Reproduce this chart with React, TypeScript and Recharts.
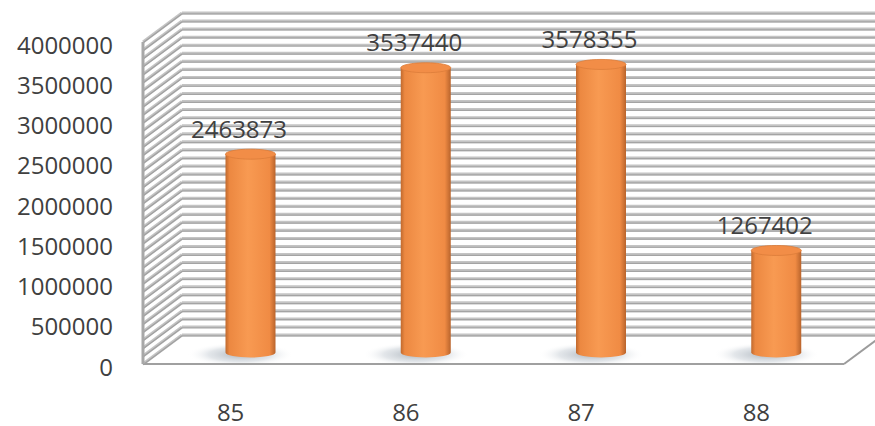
import { BarChart, Bar, XAxis, YAxis, CartesianGrid, LabelList } from "recharts";

// values
const years = ["85", "86", "87", "88"];
const amounts = [2463873, 3537440, 3578355, 1267402];
const majorTicks = [0, 500000, 1000000, 1500000, 2000000, 2500000, 3000000, 3500000, 4000000];
// minor grid every 100000
const gridTicks = Array.from({ length: 41 }, (_, i) => i * 100000);

const data = years.map((year, i) => ({ year, amount: amounts[i] }));

// depth offset of the back wall, cylinders sit half way
const DX = 39;
const DY = -29;
const TEXT = "#404040";
const FONT = "'Open Sans', 'Noto Sans', sans-serif";

function GridLine3D(props: any) {
  const { x1, x2, y1, index } = props;
  const bx = x1 + DX;
  const by = y1 + DY;
  return (
    <g key={`g-${index}`}>
      {index === 0 && (
        <polygon
          points={`${x1},${y1} ${x2},${y1} ${x2 + DX},${by} ${bx},${by}`}
          fill="#fff"
          stroke="none"
        />
      )}
      {index === 0 && (
        <line x1={x2} y1={y1} x2={x2 + DX} y2={by} stroke="#9c9c9c" strokeWidth={2} />
      )}
      <line x1={x1} y1={y1} x2={bx} y2={by} stroke="#c4c4c4" strokeWidth={3} />
      <line x1={x1} y1={y1 + 0.8} x2={bx} y2={by + 0.8} stroke="#a0a0a0" strokeWidth={1.2} />
      <line x1={bx} y1={by} x2={x2 + DX + 10} y2={by} stroke="#c4c4c4" strokeWidth={3} />
      <line x1={bx} y1={by + 0.8} x2={x2 + DX + 10} y2={by + 0.8} stroke="#a4a4a4" strokeWidth={1.2} />
    </g>
  );
}

function Cylinder(props: any) {
  const { x, y, width, height, index } = props;
  const rx = width / 2;
  const ry = 5;
  const cx = x + rx + DX / 2;
  const topY = y + DY / 2 + 3;
  const baseY = y + height + DY / 2 + 3;
  const id = `cyl-${index}`;
  return (
    <g>
      <defs>
        <linearGradient id={id} x1="0" y1="0" x2="1" y2="0">
          <stop offset="0%" stopColor="#c0692e" />
          <stop offset="8%" stopColor="#ec8841" />
          <stop offset="45%" stopColor="#f89a52" />
          <stop offset="88%" stopColor="#f08b44" />
          <stop offset="100%" stopColor="#b9642c" />
        </linearGradient>
        <radialGradient id={`sh-${index}`} cx="50%" cy="50%" r="50%">
          <stop offset="0%" stopColor="#98a2ac" stopOpacity={0.8} />
          <stop offset="60%" stopColor="#c0c8d0" stopOpacity={0.45} />
          <stop offset="100%" stopColor="#ffffff" stopOpacity={0} />
        </radialGradient>
      </defs>
      <ellipse cx={cx - 10} cy={baseY + 2} rx={rx + 28} ry={12} fill={`url(#sh-${index})`} />
      <path
        d={`M${cx - rx},${topY} L${cx - rx},${baseY} A${rx},${ry} 0 0 0 ${cx + rx},${baseY} L${cx + rx},${topY} Z`}
        fill={`url(#${id})`}
      />
      <ellipse cx={cx} cy={topY} rx={rx} ry={ry} fill="#f28d47" stroke="#dc7c3a" strokeWidth={0.8} />
    </g>
  );
}

function ValueLabel(props: any) {
  const { x, y, width, value } = props;
  const cx = x + width / 2 + 8;
  const topY = y + DY / 2;
  return (
    <text x={cx} y={topY - 22 + 8.5} textAnchor="middle" fill={TEXT} fontSize={24} fontFamily={FONT}>
      {value}
    </text>
  );
}

function YTick(props: any) {
  const { x, y, payload } = props;
  if (!majorTicks.includes(payload.value)) return <g />;
  return (
    <text x={x - 30} y={y + 3 + 8.5} textAnchor="end" fill={TEXT} fontSize={24} fontFamily={FONT}>
      {payload.value}
    </text>
  );
}

function XTick(props: any) {
  const { x, payload } = props;
  return (
    <text x={x} y={420.5} textAnchor="middle" fill={TEXT} fontSize={24} fontFamily={FONT}>
      {payload.value}
    </text>
  );
}

export default function App() {
  return (
    <div style={{ position: "absolute", left: 0, top: 0, width: 875, height: 426, background: "#fff" }}>
      <BarChart
        width={875}
        height={426}
        data={data}
        margin={{ top: 42, right: 31, bottom: 0, left: 0 }}
        barSize={50}
      >
        <CartesianGrid vertical={false} horizontal={(p: any) => <GridLine3D {...p} />} />
        <XAxis
          dataKey="year"
          height={62}
          tickLine={false}
          axisLine={{ stroke: "#a0a0a0", strokeWidth: 2 }}
          tick={<XTick />}
          interval={0}
        />
        <YAxis
          width={143}
          domain={[0, 4000000]}
          ticks={gridTicks}
          interval={0}
          tickLine={false}
          tickSize={0}
          tickMargin={0}
          axisLine={{ stroke: "#a8a8a8", strokeWidth: 3 }}
          tick={<YTick />}
        />
        <Bar dataKey="amount" shape={<Cylinder />} isAnimationActive={false}>
          <LabelList dataKey="amount" content={<ValueLabel />} />
        </Bar>
      </BarChart>
    </div>
  );
}
